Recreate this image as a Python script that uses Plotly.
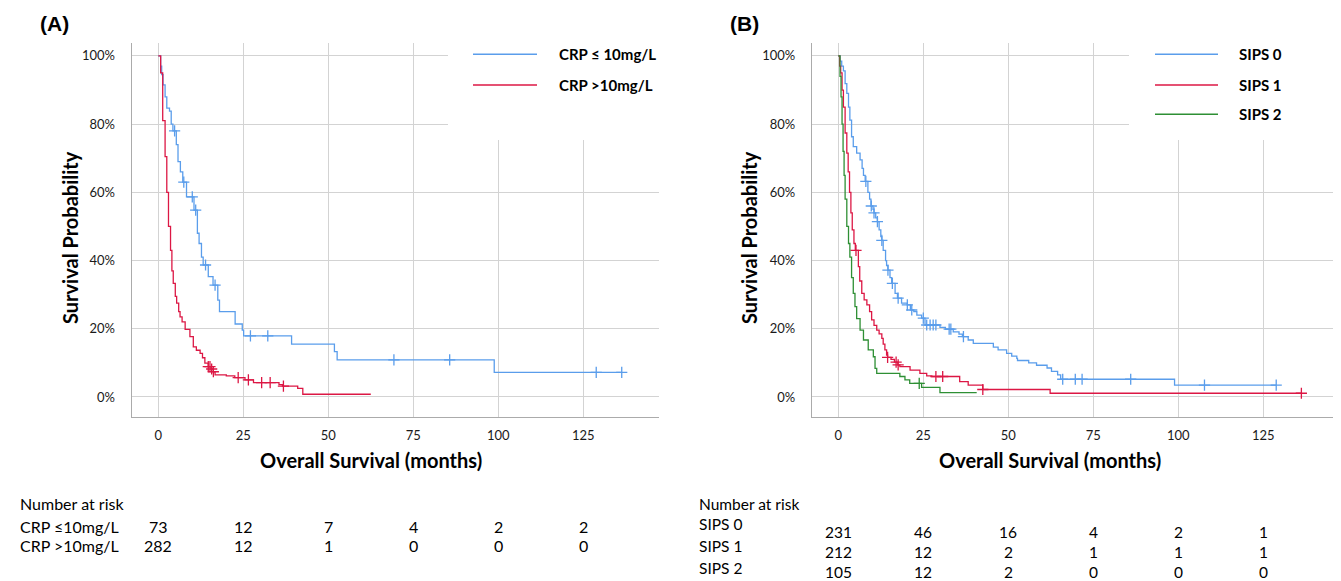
import plotly.graph_objects as go

W, H = 1341, 581

# ---------------- data ----------------
tick_months = [0, 25, 50, 75, 100, 125]
y_ticks = [0, 20, 40, 60, 80, 100]

# Panel A: CRP
crp_low_t = [0, 0.7, 1.0, 1.4, 2.0, 2.5, 3.3, 3.8, 4.3, 5.3, 5.8, 6.5, 7.2, 8.3, 10.5, 11.5,
             12.0, 12.7, 13.2, 14.7, 16.1, 17.5, 18.0, 22.6, 24.7, 25.1, 39.2, 51.8, 52.6, 98.8, 136.3]
crp_low_s = [100, 97, 94.5, 91.5, 88, 84.7, 83.8, 80, 78, 74, 69, 66, 63, 58.7, 54.8, 48,
             45, 41, 38.7, 35.3, 32.8, 28.4, 25, 21.4, 19.6, 17.9, 15.5, 13.3, 10.9, 7.2, 7.2]
crp_low_cens = [4.8, 7.5, 10.0, 11.0, 13.9, 16.7, 27.1, 32.2, 69.3, 85.7, 128.8, 136.3]

crp_high_t = [0, 0.7, 1.3, 2.0, 2.5, 3.0, 3.6, 4.0, 4.4, 5.0, 5.4, 6.0, 6.4, 7.0, 7.9, 9.3, 10.3,
              11.2, 12.3, 13.0, 13.7, 14.7, 15.5, 16.2, 16.7, 20.0, 22.5, 25.5, 28.0, 35.5, 36.5,
              41.0, 42.5, 62.5]
crp_high_s = [100, 95, 81, 70.5, 60, 50, 43, 37, 33.3, 29.5, 27.5, 25, 23.5, 22, 19.8, 17.7, 14.7,
              13.7, 12.8, 11.5, 9.9, 8.9, 8.2, 7.4, 6.5, 6.2, 5.7, 5.0, 4.2, 3.6, 3.2,
              2.5, 0.8, 0.8]
crp_high_cens = [14.7, 15.2, 15.7, 16.2, 23.5, 26.5, 30.4, 32.9, 36.8]

# Panel B: SIPS
sips0_t = [0, 0.5, 1.0, 1.5, 2.0, 2.5, 3.0, 3.4, 3.9, 4.4, 5.4, 6.4, 7.0, 7.4, 7.9, 8.7, 9.2, 9.6,
           10.2, 10.5, 11.0, 11.5, 12.0, 12.5, 12.8, 13.2, 13.9, 14.2, 14.6, 15.2, 15.7, 16.7,
           17.4, 18.6, 20.3, 21.2, 22.2, 23.1, 24.5, 25.5, 29.9, 31.5, 33.8, 35.5, 36.5, 38.2,
           39.7, 45.6, 47.0, 49.5, 51.0, 52.5, 52.7, 56.0, 58.3, 61.4, 62.7, 64.5, 65.4, 98.9, 128.8]
sips0_s = [100, 98.5, 97, 95.6, 91.9, 89, 85, 81.2, 76.3, 73.4, 71.5, 69.5, 67, 65, 63.2, 60, 58, 56,
           55, 54, 52.5, 51.4, 49, 47, 45.9, 43, 40, 38.5, 37.2, 35, 33.3, 30.4,
           29, 27.5, 27, 25.5, 25, 24, 23.1, 21.1, 20.4, 19.9, 19.1, 18.4, 17.7, 16.7,
           15.7, 14.6, 13.8, 12.8, 12.0, 11.3, 10.7, 10.0, 9.3, 8.5, 7.5, 6.5, 5.2, 3.5, 3.5]
sips0_cens = [8.1, 9.7, 10.5, 11.5, 12.8, 14.6, 15.9, 17.6, 20.3, 21.6, 25.0, 26.0, 27.0, 27.9,
              28.7, 32.6, 33.1, 36.8, 66.0, 69.7, 71.7, 86.0, 107.7, 128.8]

sips1_t = [0, 0.4, 0.7, 1.1, 1.5, 2.0, 2.5, 2.9, 3.3, 3.7, 4.1, 4.6, 5.0, 5.9, 6.3, 6.9, 7.6, 8.4,
           9.2, 9.8, 10.5, 11.3, 12.0, 12.8, 13.2, 13.7, 14.2, 14.5, 15.5, 16.5, 17.5, 18.1,
           21.1, 24.0, 26.0, 27.5, 35.7, 38.2, 42.5, 62.3, 136.2]
sips1_s = [100, 97, 95, 90, 85, 77.4, 71.5, 66, 60, 54, 49, 45, 43, 38.2, 34, 30.4, 28.5, 27,
           25, 22.6, 21, 19.6, 18.5, 17.2, 15.5, 13.8, 12.3, 11.6, 11.0, 10.2, 9.4, 8.9,
           7.9, 6.9, 6.2, 6.0, 4.5, 3.5, 2.2, 1.1, 1.1]
sips1_cens = [5.2, 14.5, 17.0, 17.6, 28.7, 30.7, 42.5, 136.2]

sips2_t = [0, 0.5, 0.8, 1.1, 1.4, 1.7, 2.0, 2.5, 3.0, 3.4, 3.9, 4.4, 4.9, 5.4, 6.4, 7.4, 8.8,
           10.3, 10.8, 11.3, 18.1, 19.6, 21.0, 24.5, 29.9, 40.7]
sips2_s = [100, 94, 88, 80, 72, 65, 58, 50, 45, 41, 35, 30.4, 26.5, 23, 19.6, 16.7, 13.8,
           11.8, 8.4, 6.9, 6.0, 5.0, 4.0, 2.8, 1.3, 1.3]
sips2_cens = [23.8]

risk_a_labels = ["CRP \u226410mg/L", "CRP >10mg/L"]
risk_a = [[73, 12, 7, 4, 2, 2], [282, 12, 1, 0, 0, 0]]
risk_b_labels = ["SIPS 0", "SIPS 1", "SIPS 2"]
risk_b = [[231, 46, 16, 4, 2, 1], [212, 12, 2, 1, 1, 1], [105, 12, 2, 0, 0, 0]]

legend_a = ["CRP \u2264 10mg/L", "CRP >10mg/L"]
legend_b = ["SIPS 0", "SIPS 1", "SIPS 2"]

# ---------------- style ----------------
BLUE = "#5A9DEB"
RED = "#DC1744"
GREEN = "#2E8F34"
GRID = "#D3D3D3"
AXLINE = "#ABABAB"
FONT = "Lato, 'Open Sans', sans-serif"
OFF = 8  # page body margin in the browser


def px(x):
    return (x - OFF) / W


def py(y):
    return 1 - (y - OFF) / H


def step_at(ts, ss, c):
    v = ss[0]
    for t, s in zip(ts, ss):
        if t <= c:
            v = s
    return v


fig = go.Figure()


def add_curve(ts, ss, cens, color, xa, ya):
    fig.add_trace(go.Scatter(x=ts, y=ss, mode="lines", line=dict(color=color, width=1.3, shape="hv"),
                             xaxis=xa, yaxis=ya, showlegend=False, hoverinfo="skip"))
    fig.add_trace(go.Scatter(x=cens, y=[step_at(ts, ss, c) for c in cens], mode="markers",
                             marker=dict(symbol="cross-thin", size=8, line=dict(color=color, width=1.3)),
                             xaxis=xa, yaxis=ya, showlegend=False, hoverinfo="skip"))


add_curve(crp_low_t, crp_low_s, crp_low_cens, BLUE, "x", "y")
add_curve(crp_high_t, crp_high_s, crp_high_cens, RED, "x", "y")
add_curve(sips0_t, sips0_s, sips0_cens, BLUE, "x2", "y2")
add_curve(sips1_t, sips1_s, sips1_cens, RED, "x2", "y2")
add_curve(sips2_t, sips2_s, sips2_cens, GREEN, "x2", "y2")

y_dom = [py(417), py(43.3)]
xa_common = dict(tickvals=tick_months, ticktext=[str(v) for v in tick_months], showgrid=True,
                 gridcolor=GRID, gridwidth=1.3, zeroline=False, showline=True, linecolor=AXLINE,
                 linewidth=1.3, ticks="", tickfont=dict(family=FONT, size=13, color="#1a1a1a"),
                 ticklabelstandoff=6, fixedrange=True)
ya_common = dict(tickvals=y_ticks, ticktext=[f"{v}%" for v in y_ticks], range=[-5.87, 103.7],
                 domain=y_dom, showgrid=True, gridcolor=GRID, gridwidth=1.3, zeroline=False,
                 showline=True, linecolor=AXLINE, linewidth=1.3, ticks="",
                 tickfont=dict(family=FONT, size=13, color="#1a1a1a"), ticklabelstandoff=13,
                 fixedrange=True)

fig.update_layout(
    width=W, height=H, margin=dict(l=0, r=0, t=0, b=0),
    paper_bgcolor="white", plot_bgcolor="white",
    xaxis=dict(domain=[px(131.7), px(659)], range=[-7.82, 147.26], anchor="y", **xa_common),
    yaxis=dict(anchor="x", **ya_common),
    xaxis2=dict(domain=[px(812), px(1340)], range=[-7.74, 147.56], anchor="y2", **xa_common),
    yaxis2=dict(anchor="x2", **ya_common),
)

# white legend boxes covering the gridlines (no data lies in this area)
for x0, x1 in ((448, 660), (1129, 1341)):
    fig.add_shape(type="rect", xref="paper", yref="paper", x0=px(x0), x1=px(x1), y0=py(140), y1=py(42.5),
                  fillcolor="white", line=dict(width=0), layer="above")

ann = []


def note(text, x, y, font, xanchor="center", xref="paper", angle=0):
    ann.append(dict(text=text, x=x, y=y, xref=xref, yref="paper", xanchor=xanchor, yanchor="middle",
                    showarrow=False, textangle=angle, font=font))


LETTER = dict(family="Liberation Sans, Arial, sans-serif", size=21, color="black")
note("<b>(A)</b>", px(55), py(23), LETTER)
note("<b>(B)</b>", px(744), py(23), LETTER)

TITLE = dict(family=FONT, size=20, color="black")
for xc in (70, 749):
    note("<b>Survival Probability</b>", px(xc), py(238), TITLE, angle=-90)
for xc in (371, 1050):
    note("<b>Overall Survival (months)</b>", px(xc), py(460), TITLE)

LEG = dict(family=FONT, size=15, color="black")
for lab, col, yy in zip(legend_a, [BLUE, RED], [54.3, 85]):
    fig.add_shape(type="line", xref="paper", yref="paper", x0=px(473), x1=px(537), y0=py(yy), y1=py(yy),
                  line=dict(color=col, width=1.5), layer="above")
    note(f"<b>{lab}</b>", px(557), py(yy), LEG, xanchor="left")
for lab, col, yy in zip(legend_b, [BLUE, RED, GREEN], [54.3, 85, 114.3]):
    fig.add_shape(type="line", xref="paper", yref="paper", x0=px(1155), x1=px(1218), y0=py(yy), y1=py(yy),
                  line=dict(color=col, width=1.5), layer="above")
    note(f"<b>{lab}</b>", px(1237), py(yy), LEG, xanchor="left")

TFONT = dict(family=FONT, size=16, color="black")
note("Number at risk", px(18), py(503), TFONT, xanchor="left")
for lab, row, yy in zip(risk_a_labels, risk_a, [526.7, 545.7]):
    note(lab, px(18), py(yy), TFONT, xanchor="left")
    for m, v in zip(tick_months, row):
        note(str(v), m, py(yy), TFONT, xref="x")

BFONT = dict(family=FONT, size=15.5, color="black")
note("Number at risk", px(697), py(504), BFONT, xanchor="left")
for lab, row, yl, yn in zip(risk_b_labels, risk_b, [524, 546, 568], [532, 552, 571.5]):
    note(lab, px(697), py(yl), BFONT, xanchor="left")
    for m, v in zip(tick_months, row):
        note(str(v), m, py(yn), BFONT, xref="x2")

fig.update_layout(annotations=ann)
fig.write_html("out.html")
